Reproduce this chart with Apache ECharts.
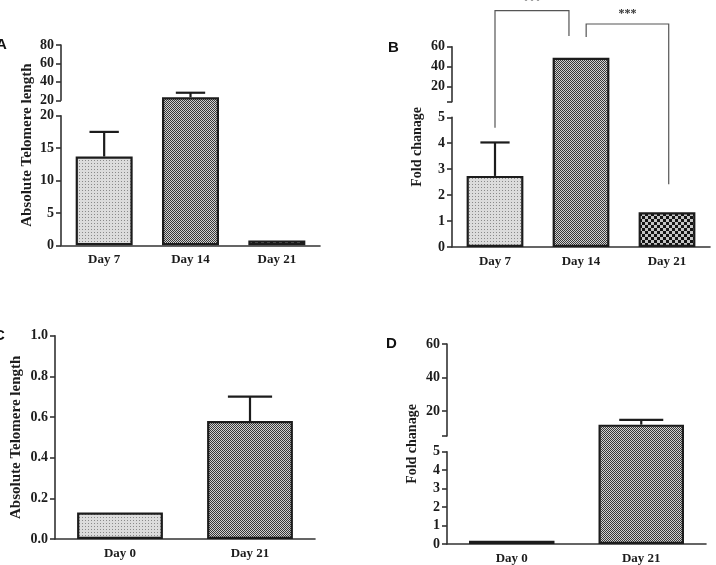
<!DOCTYPE html>
<html>
<head>
<meta charset="utf-8">
<script src="https://cdn.jsdelivr.net/npm/echarts@6.0.0/dist/echarts.min.js"></script>
<style>
  html, body { margin: 0; padding: 0; background: #fff; }
  #main { width: 716px; height: 565px; }
</style>
</head>
<body>
<div id="main"></div>
<script>
// A: absolute telomere length, broken axis 0-20 / 20-80
const daysA = ['Day 7', 'Day 14', 'Day 21']
const meanA = [13.7, 23.3, 0.75]
const errA = [3.8, 4.9, 0]
const lowTicksA = [0, 5, 10, 15, 20]
const upTicksA = [20, 40, 60, 80]
const breakA = [20, 20]

// B: fold change, broken axis 0-5 / 5-60
const daysB = ['Day 7', 'Day 14', 'Day 21']
const meanB = [2.74, 49, 1.34]
const errB = [1.29, 0, 0]
const lowTicksB = [0, 1, 2, 3, 4, 5]
const upTicksB = [20, 40, 60]
const breakB = [5, 5]
// significance: [from, to, top, left end, right end] in axis units
const bracketsB = [[0, 1, 96, 4.6, 70.7], [1, 2, 82.7, 69.7, 2.42]]
const starsB = ['***', '***']

// C: absolute telomere length
const daysC = ['Day 0', 'Day 21']
const meanC = [0.13, 0.58]
const errC = [0, 0.12]
const ticksC = [0, 0.2, 0.4, 0.6, 0.8, 1.0]

// D: fold change, broken axis 0-5 / 5-60
const daysD = ['Day 0', 'Day 21']
const meanD = [0.17, 11.8]
const errD = [0, 2.8]
const lowTicksD = [0, 1, 2, 3, 4, 5]
const upTicksD = [20, 40, 60]
const breakD = [5, 5]

const serif = 'Liberation Serif'
const ink = '#1c1c1c'
const axisInk = '#333'

function pattern(size, draw) {
  const c = document.createElement('canvas')
  c.width = c.height = size
  draw(c.getContext('2d'))
  return { image: c, repeat: 'repeat' }
}
const dotFill = pattern(3, g => {
  g.fillStyle = '#dcdcdc'; g.fillRect(0, 0, 3, 3)
  g.fillStyle = '#8a8a8a'; g.fillRect(1, 1, 1, 1)
})
const fineFill = pattern(2, g => {
  g.fillStyle = '#d2d2d2'; g.fillRect(0, 0, 2, 2)
  g.fillStyle = '#383838'; g.fillRect(0, 0, 1, 1); g.fillRect(1, 1, 1, 1)
})
const coarseFill = pattern(6, g => {
  g.fillStyle = '#c4c4c4'; g.fillRect(0, 0, 6, 6)
  g.fillStyle = '#141414'; g.fillRect(0, 0, 3, 3); g.fillRect(3, 3, 3, 3)
})

const layout = {
  A: { left: 61, width: 259, top: 45, upEnd: 100.3, loTop: 115.7, bottom: 245.3, nameGap: 26 },
  B: { left: 452, width: 258, top: 46.7, upEnd: 101.7, loTop: 117.3, bottom: 247, nameGap: 28 },
  C: { left: 55, width: 260, top: 335.7, bottom: 539, nameGap: 31 },
  D: { left: 447, width: 259, top: 344, upEnd: 436, loTop: 451.7, bottom: 544, nameGap: 28 }
}

const panels = [
  { id: 'A', cats: daysA, mean: meanA, err: errA, low: lowTicksA, up: upTicksA, brk: breakA,
    fills: [dotFill, fineFill, coarseFill], name: 'Absolute Telomere length', nameSize: 15 },
  { id: 'B', cats: daysB, mean: meanB, err: errB, low: lowTicksB, up: upTicksB, brk: breakB,
    fills: [dotFill, fineFill, coarseFill], name: 'Fold chanage', nameSize: 14 },
  { id: 'C', cats: daysC, mean: meanC, err: errC, low: ticksC,
    fills: [dotFill, fineFill], name: 'Absolute Telomere length', nameSize: 15, digits: 1 },
  { id: 'D', cats: daysD, mean: meanD, err: errD, low: lowTicksD, up: upTicksD, brk: breakD,
    fills: [dotFill, fineFill], name: 'Fold chanage', nameSize: 14 }
]

const last = a => a[a.length - 1]
const tickFont = { fontFamily: serif, fontWeight: 'bold', fontSize: 13, color: ink }
const yTickFont = { ...tickFont, fontSize: 14 }
const line = { lineStyle: { color: axisInk, width: 1.6 } }

// value -> pixel height above the panel's x axis (broken axis)
function toDisp(p, L, v) {
  if (!p.brk) return v
  const hL = L.bottom - L.loTop, hU = L.upEnd - L.top, gap = L.loTop - L.upEnd
  if (v <= p.brk[0]) return v / p.brk[0] * hL
  return hL + gap + (v - p.brk[1]) / (last(p.up) - p.brk[1]) * hU
}

function errorSeries(xi, yi, data) {
  return {
    type: 'custom', xAxisIndex: xi, yAxisIndex: yi, data, silent: true, z: 3,
    renderItem: (params, api) => {
      const base = api.coord([api.value(0), api.value(1)])
      const top = api.coord([api.value(0), api.value(2)])
      const half = api.size([1, 0])[0] * 0.17
      const st = { stroke: ink, lineWidth: 2.2 }
      return { type: 'group', children: [
        { type: 'line', shape: { x1: base[0], y1: base[1], x2: top[0], y2: top[1] }, style: st },
        { type: 'line', shape: { x1: top[0] - half, y1: top[1], x2: top[0] + half, y2: top[1] }, style: st }
      ] }
    }
  }
}

const grids = [], xAxes = [], yAxes = [], series = []

panels.forEach(p => {
  const L = layout[p.id]
  const loTop = p.brk ? L.loTop : L.top
  const fmt = v => p.digits ? v.toFixed(p.digits) : String(v)
  const nameStyle = { fontFamily: serif, fontWeight: 'bold', fontSize: p.nameSize, color: ink }

  // lower grid with the visible x axis
  const gLo = grids.length
  grids.push({ left: L.left, width: L.width, top: loTop, height: L.bottom - loTop, outerBoundsMode: 'none' })
  xAxes.push({
    gridIndex: gLo, type: 'category', data: p.cats,
    axisLine: line, axisTick: { alignWithLabel: true, length: 5, ...line },
    axisLabel: { ...tickFont, margin: 8 }
  })
  yAxes.push({
    gridIndex: gLo, type: 'value', min: p.low[0], max: p.brk ? p.brk[0] : last(p.low),
    axisLine: { show: true, ...line }, axisTick: { show: true, length: 5, customValues: p.low, ...line },
    axisLabel: { ...yTickFont, margin: 7, customValues: p.low, formatter: fmt },
    splitLine: { show: false },
    name: p.brk ? '' : p.name, nameLocation: 'middle', nameRotate: 90, nameGap: L.nameGap,
    nameTextStyle: nameStyle, nameMoveOverlap: false
  })

  let xi = xAxes.length - 1, yi = yAxes.length - 1

  if (p.brk) {
    // upper segment of the broken axis
    const gUp = grids.length
    grids.push({ left: L.left, width: L.width, top: L.top, height: L.upEnd - L.top, outerBoundsMode: 'none' })
    xAxes.push({ gridIndex: gUp, type: 'category', data: p.cats, show: false })
    const upTickVals = p.up[0] === p.brk[1] ? p.up : [p.brk[1], ...p.up]
    yAxes.push({
      gridIndex: gUp, type: 'value', min: p.brk[1], max: last(p.up),
      axisLine: { show: true, ...line }, axisTick: { show: true, length: 5, customValues: upTickVals, ...line },
      axisLabel: { ...yTickFont, margin: 7, customValues: p.up },
      splitLine: { show: false }
    })
    // overlay grid spanning the whole panel, bars drawn here
    const gAll = grids.length
    grids.push({ left: L.left, width: L.width, top: L.top, height: L.bottom - L.top, outerBoundsMode: 'none' })
    xAxes.push({ gridIndex: gAll, type: 'category', data: p.cats, show: false })
    yAxes.push({
      gridIndex: gAll, type: 'value', min: 0, max: L.bottom - L.top,
      axisLine: { show: false }, axisTick: { show: false }, axisLabel: { show: false }, splitLine: { show: false },
      name: p.name, nameLocation: 'middle', nameRotate: 90, nameGap: L.nameGap,
      nameTextStyle: nameStyle, nameMoveOverlap: false
    })
    xi = xAxes.length - 1; yi = yAxes.length - 1
  }

  series.push({
    type: 'bar', xAxisIndex: xi, yAxisIndex: yi, barWidth: '66%', silent: true,
    itemStyle: { borderColor: ink, borderWidth: 2.2 },
    data: p.mean.map((v, i) => ({ value: toDisp(p, L, v), itemStyle: { color: p.fills[i] } }))
  })
  const errData = p.mean.map((v, i) => [i, toDisp(p, L, v), toDisp(p, L, v + p.err[i])])
    .filter((d, i) => p.err[i] > 0)
  series.push(errorSeries(xi, yi, errData))

  if (p.id === 'B') {
    const offs = [[0, -0.14], [0.06, 0.02]]
    series.push({
      type: 'custom', xAxisIndex: xi, yAxisIndex: yi, silent: true, clip: false,
      data: bracketsB.map(b => [b[0], b[1], toDisp(p, L, b[2]), toDisp(p, L, b[3]), toDisp(p, L, b[4])]),
      renderItem: (params, api) => {
        const band = api.size([1, 0])[0]
        const o = offs[params.dataIndex]
        const xl = api.coord([api.value(0), 0])[0] + o[0] * band
        const xr = api.coord([api.value(1), 0])[0] + o[1] * band
        const yt = api.coord([0, api.value(2)])[1]
        const yl = api.coord([0, api.value(3)])[1]
        const yr = api.coord([0, api.value(4)])[1]
        return { type: 'group', children: [
          { type: 'polyline', shape: { points: [[xl, yl], [xl, yt], [xr, yt], [xr, yr]] },
            style: { stroke: '#555', lineWidth: 1.2, fill: null } },
          { type: 'text', x: (xl + xr) / 2, y: yt - 10,
            style: { text: starsB[params.dataIndex], fontFamily: serif, fontWeight: 'bold', fontSize: 12,
              fill: '#333', align: 'center', verticalAlign: 'middle' } }
        ] }
      }
    })
  }
})

const letters = [['A', -4, 37], ['B', 388, 40], ['C', -6, 328], ['D', 386, 336]]

const chart = echarts.init(document.getElementById('main'))
chart.setOption({
  animation: false,
  backgroundColor: '#fff',
  grid: grids,
  xAxis: xAxes,
  yAxis: yAxes,
  series,
  graphic: letters.map(([t, x, y]) => ({
    type: 'text', x, y,
    style: { text: t, fontFamily: 'Liberation Sans', fontWeight: 'bold', fontSize: 15, fill: '#111' }
  }))
})
</script>
</body>
</html>
